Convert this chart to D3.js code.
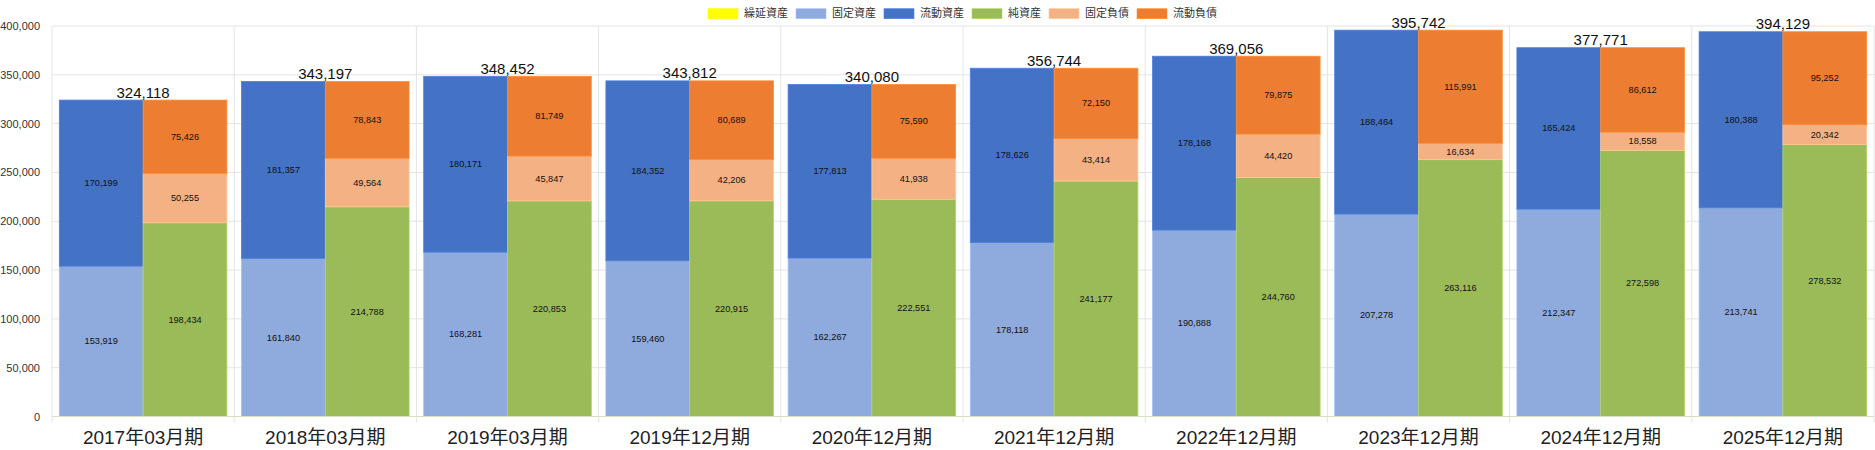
<!DOCTYPE html>
<html>
<head>
<meta charset="utf-8">
<script src="https://cdn.jsdelivr.net/npm/d3@7"></script>
<style>
  body { margin: 0; background: #fff; }
  text { font-family: "Liberation Sans", Arial, "Noto Sans CJK JP", sans-serif; }
</style>
</head>
<body>
<div id="chart"></div>
<script>
const categories = ["2017年03月期", "2018年03月期", "2019年03月期", "2019年12月期", "2020年12月期",
    "2021年12月期", "2022年12月期", "2023年12月期", "2024年12月期", "2025年12月期"];

const deferred = [0, 0, 0, 0, 0, 0, 0, 0, 0, 0];  // 繰延資産
const fixedAssets = [153919, 161840, 168281, 159460, 162267, 178118, 190888, 207278, 212347, 213741];
const currentAssets = [170199, 181357, 180171, 184352, 177813, 178626, 178168, 188464, 165424, 180388];
const netAssets = [198434, 214788, 220853, 220915, 222551, 241177, 244760, 263116, 272598, 278532];
const fixedLiab = [50255, 49564, 45847, 42206, 41938, 43414, 44420, 16634, 18558, 20342];
const currentLiab = [75426, 78843, 81749, 80689, 75590, 72150, 79875, 115991, 86612, 95252];
const totals = [324118, 343197, 348452, 343812, 340080, 356744, 369056, 395742, 377771, 394129];

const yTicks = [0, 50000, 100000, 150000, 200000, 250000, 300000, 350000, 400000];

const seriesNames = ["繰延資産", "固定資産", "流動資産", "純資産", "固定負債", "流動負債"];
const colors = ["#FFFF00", "#8FAADC", "#4472C4", "#9BBB59", "#F4B183", "#ED7D31"];

const width = 1875, height = 450;
const margin = {top: 26, right: 1, bottom: 33.5, left: 52};

const svg = d3.select("#chart").append("svg")
    .attr("width", width).attr("height", height);

const x = d3.scaleBand().domain(categories)
    .range([margin.left, width - margin.right]).padding(0);
const y = d3.scaleLinear().domain([0, 400000])
    .range([height - margin.bottom, margin.top]);

const fmt = d3.format(",");

// grid
svg.append("g").selectAll("line").data(yTicks).join("line")
    .attr("x1", margin.left).attr("x2", width - margin.right)
    .attr("y1", d => y(d)).attr("y2", d => y(d))
    .attr("stroke", "#e4e4e4");
const vlines = categories.map(c => x(c)).concat([x(categories[categories.length - 1]) + x.bandwidth()]);
svg.append("g").selectAll("line").data(vlines).join("line")
    .attr("x1", d => d).attr("x2", d => d)
    .attr("y1", margin.top).attr("y2", height - margin.bottom + 6)
    .attr("stroke", "#e4e4e4");

// y axis labels
const yAxis = svg.append("g")
    .attr("transform", `translate(${margin.left - 9},0)`)
    .call(d3.axisLeft(y).tickValues(yTicks).tickFormat(fmt).tickSize(0));
yAxis.select(".domain").remove();
yAxis.selectAll("text").attr("font-size", 11).attr("fill", "#333")
    .attr("font-family", "Liberation Sans, Arial, sans-serif");

// bars
const pad = 7.3;
const barW = (x.bandwidth() - 2 * pad) / 2;

const stacks = [
    {offset: 0, parts: [[0, deferred], [1, fixedAssets], [2, currentAssets]]},
    {offset: 1, parts: [[3, netAssets], [4, fixedLiab], [5, currentLiab]]}
];

const segs = [];
categories.forEach((c, i) => {
    stacks.forEach(s => {
        let base = 0;
        s.parts.forEach(([k, arr]) => {
            const v = arr[i];
            segs.push({cat: c, side: s.offset, k: k, y0: base, y1: base + v, v: v});
            base += v;
        });
    });
});

const g = svg.append("g");
g.selectAll("rect").data(segs.filter(d => d.v > 0)).join("rect")
    .attr("x", d => x(d.cat) + pad + d.side * barW)
    .attr("y", d => y(d.y1))
    .attr("width", barW)
    .attr("height", d => y(d.y0) - y(d.y1))
    .attr("fill", d => colors[d.k])
    .attr("stroke", d => d3.color(colors[d.k]).brighter(0.35))
    .attr("stroke-width", 0.8);

g.selectAll("text").data(segs.filter(d => d.v > 0)).join("text")
    .attr("x", d => x(d.cat) + pad + d.side * barW + barW / 2)
    .attr("y", d => (y(d.y0) + y(d.y1)) / 2)
    .attr("text-anchor", "middle")
    .attr("dominant-baseline", "central")
    .attr("font-size", 9.2)
    .attr("fill", "#111")
    .text(d => fmt(d.v));

// baseline
svg.append("line")
    .attr("x1", margin.left).attr("x2", width - margin.right)
    .attr("y1", y(0)).attr("y2", y(0))
    .attr("stroke", "#d6e0c4");

// totals
svg.append("g").selectAll("text").data(categories).join("text")
    .attr("x", d => x(d) + x.bandwidth() / 2)
    .attr("y", (d, i) => y(totals[i]) - 2.5)
    .attr("text-anchor", "middle")
    .attr("font-size", 15)
    .attr("fill", "#111")
    .text((d, i) => fmt(totals[i]));

// x labels
svg.append("g").selectAll("text").data(categories).join("text")
    .attr("x", d => x(d) + x.bandwidth() / 2)
    .attr("y", height - 6)
    .attr("text-anchor", "middle")
    .attr("font-size", 19)
    .attr("fill", "#222")
    .attr("font-family", "Liberation Sans, Arial, 'Noto Sans CJK JP', sans-serif")
    .text(d => d);

// legend
const legend = svg.append("g");
let lx = 708;
seriesNames.forEach((name, i) => {
    const tw = name.length * 11;
    legend.append("rect").attr("x", lx).attr("y", 8.7).attr("width", 30).attr("height", 10)
        .attr("fill", colors[i]).attr("stroke", d3.color(colors[i]).brighter(0.4)).attr("stroke-width", 0.6);
    legend.append("text").attr("x", lx + 36).attr("y", 13)
        .attr("dominant-baseline", "central")
        .attr("font-size", 11)
        .attr("font-family", "'Noto Sans CJK JP', sans-serif")
        .attr("fill", "#333")
        .text(name);
    lx += 36 + tw + 8;
});
</script>
</body>
</html>
